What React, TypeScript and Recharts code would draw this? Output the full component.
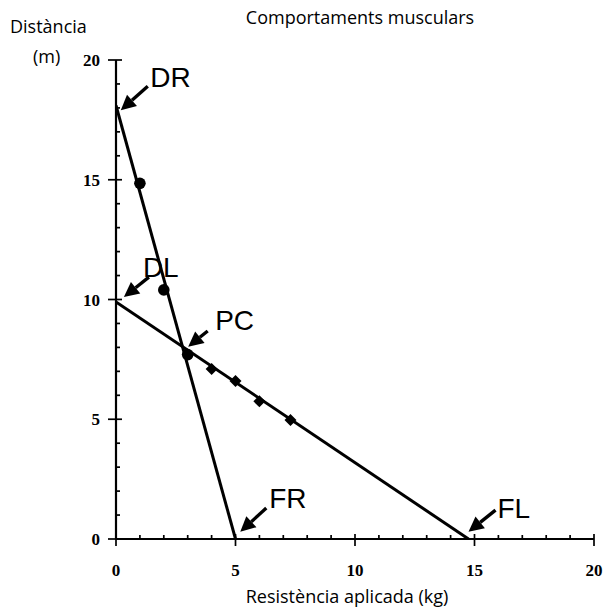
import React from "react";
import { ScatterChart, Scatter, XAxis, YAxis, ReferenceDot } from "recharts";

// axis ticks (every unit, labels only on multiples of 5)
const axisTicks = [0, 1, 2, 3, 4, 5, 6, 7, 8, 9, 10, 11, 12, 13, 14, 15, 16, 17, 18, 19, 20];

// the two straight lines (end points)
const drLine = [
  { x: 0, y: 18.1 },
  { x: 5, y: 0 },
];
const dlLine = [
  { x: 0, y: 9.9 },
  { x: 14.75, y: 0 },
];

// measured points
const circlePoints = [
  { x: 1, y: 14.85 },
  { x: 2, y: 10.4 },
  { x: 3, y: 7.7 },
];
const diamondPoints = [
  { x: 3, y: 7.7 },
  { x: 4, y: 7.1 },
  { x: 5, y: 6.6 },
  { x: 6, y: 5.75 },
  { x: 7.3, y: 4.97 },
];

// annotation labels and the points their arrows aim at
const noteLabels = ["DR", "DL", "PC", "FR", "FL"];
const noteX = [0.2, 0.33, 3.02, 5.2, 14.75];
const noteY = [17.9, 10.1, 8.03, 0.3, 0.3];

// pixel offsets of arrow tail and text from the arrow tip
const noteLayout = [
  { tail: [27, -24], text: [29.5, -23] },
  { tail: [25, -20], text: [19, -20] },
  { tail: [19.5, -15.7], text: [27, -17] },
  { tail: [26, -23.7], text: [29, -24] },
  { tail: [27, -21.7], text: [29, -14] },
];

const tickFont = { fontFamily: "'Liberation Serif', serif", fontWeight: 700, fontSize: 17 };
const textFont = "'Open Sans', Lato, sans-serif";

function XTick(props: any) {
  const { x, y, payload } = props;
  const v = payload.value;
  const major = v % 5 === 0;
  return (
    <g>
      <line x1={x} x2={x} y1={y - (major ? 5 : 4)} y2={y + (major ? 7 : 0)} stroke="#000" strokeWidth={1.7} />
      {major && (
        <text x={x} y={y + 37} textAnchor="middle" fill="#000" {...tickFont}>
          {v}
        </text>
      )}
    </g>
  );
}

function YTick(props: any) {
  const { x, y, payload } = props;
  const v = payload.value;
  const major = v % 5 === 0;
  return (
    <g>
      <line x1={x - (major ? 8 : 0)} x2={x + (major ? 6 : 4)} y1={y} y2={y} stroke="#000" strokeWidth={1.7} />
      {major && (
        <text x={x - 16} y={y + 6} textAnchor="end" fill="#000" {...tickFont}>
          {v}
        </text>
      )}
    </g>
  );
}

const Dot = (props: any) => <circle cx={props.cx} cy={props.cy} r={5.8} fill="#000" />;

const Diamond = (props: any) => {
  const { cx, cy } = props;
  const s = 6;
  return <path d={`M${cx},${cy - s}L${cx + s},${cy}L${cx},${cy + s}L${cx - s},${cy}Z`} fill="#000" />;
};

const NoShape = () => <g />;

function makeArrow(i: number) {
  return (props: any) => {
    const { cx, cy } = props;
    const lay = noteLayout[i];
    const tx = cx + lay.tail[0];
    const ty = cy + lay.tail[1];
    const ang = Math.atan2(cy - ty, cx - tx);
    const len = 15;
    const half = 7.5;
    const bx = cx - len * Math.cos(ang);
    const by = cy - len * Math.sin(ang);
    const px = -Math.sin(ang) * half;
    const py = Math.cos(ang) * half;
    return (
      <g>
        <line x1={tx} y1={ty} x2={bx} y2={by} stroke="#000" strokeWidth={3.4} />
        <path d={`M${cx},${cy}L${bx + px},${by + py}L${bx - px},${by - py}Z`} fill="#000" />
        <text
          x={cx + lay.text[0]}
          y={cy + lay.text[1]}
          fontFamily="'Liberation Sans', Arial, sans-serif"
          fontSize={28}
          fill="#000"
        >
          {noteLabels[i]}
        </text>
      </g>
    );
  };
}

export default function App() {
  return (
    <div style={{ position: "absolute", left: 0, top: 0, width: 606, height: 614, background: "#fff" }}>
      <ScatterChart width={606} height={614} margin={{ top: 60, right: 12, bottom: 0, left: 0 }}>
        <XAxis
          type="number"
          dataKey="x"
          domain={[0, 20]}
          ticks={axisTicks}
          interval={0}
          height={75}
          tickSize={0}
          tickMargin={0}
          tickLine={false}
          axisLine={{ stroke: "#000", strokeWidth: 2.2 }}
          tick={<XTick />}
          allowDataOverflow
        />
        <YAxis
          type="number"
          dataKey="y"
          domain={[0, 20]}
          ticks={axisTicks}
          interval={0}
          width={116}
          tickSize={0}
          tickMargin={0}
          tickLine={false}
          axisLine={{ stroke: "#000", strokeWidth: 2.2 }}
          tick={<YTick />}
          allowDataOverflow
        />
        <Scatter data={drLine} line={{ stroke: "#000", strokeWidth: 3 }} shape={NoShape} isAnimationActive={false} />
        <Scatter data={dlLine} line={{ stroke: "#000", strokeWidth: 3 }} shape={NoShape} isAnimationActive={false} />
        <Scatter data={circlePoints} shape={Dot} isAnimationActive={false} />
        <Scatter data={diamondPoints} shape={Diamond} isAnimationActive={false} />
        {noteLabels.map((lab, i) => (
          <ReferenceDot key={lab} x={noteX[i]} y={noteY[i]} shape={makeArrow(i)} ifOverflow="visible" />
        ))}
      </ScatterChart>
      <svg width={606} height={614} style={{ position: "absolute", left: 0, top: 0, pointerEvents: "none" }}>
        <text x={360} y={24} textAnchor="middle" fontFamily={textFont} fontSize={18} fill="#000">
          Comportaments musculars
        </text>
        <text x={10} y={33} fontFamily={textFont} fontSize={18} fill="#000">
          Distància
        </text>
        <text x={33} y={63} fontFamily={textFont} fontSize={18} fill="#000">
          (m)
        </text>
        <text x={347} y={603} textAnchor="middle" fontFamily={textFont} fontSize={18} fill="#000">
          Resistència aplicada (kg)
        </text>
      </svg>
    </div>
  );
}
